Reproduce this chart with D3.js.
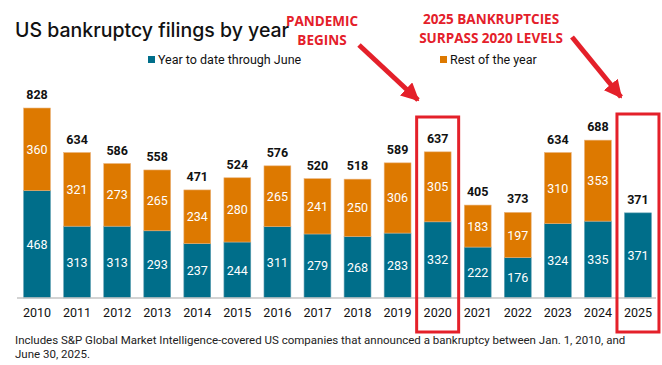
<!DOCTYPE html>
<html lang="en">
<head>
<meta charset="UTF-8" />
<script src="https://d3js.org/d3.v7.min.js"></script>
<style>
  body { margin: 0; background: #fff; }
  svg { display: block; font-family: Roboto, "Noto Sans", sans-serif; }
</style>
</head>
<body>
<svg width="662" height="365"></svg>
<script>
// data
const years = ["2010","2011","2012","2013","2014","2015","2016","2017","2018","2019","2020","2021","2022","2023","2024","2025"];
const ytdJune = [468, 313, 313, 293, 237, 244, 311, 279, 268, 283, 332, 222, 176, 324, 335, 371];
const restOfYear = [360, 321, 273, 265, 234, 280, 265, 241, 250, 306, 305, 183, 197, 310, 353, 0];
const seriesNames = ["Year to date through June", "Rest of the year"];
const highlighted = ["2020", "2025"];

const teal = "#006e8a", orange = "#dd7900", red = "#e4202a";

const svg = d3.select("svg");

const rows = years.map((y, i) => ({year: y, ytd: ytdJune[i], rest: restOfYear[i], total: ytdJune[i] + restOfYear[i]}));

const x = d3.scaleBand().domain(years).range([17, 658]).paddingInner(0.33).paddingOuter(0.165);
const y = d3.scaleLinear().domain([0, 900]).range([298, 91.5]);

// title
svg.append("text")
  .attr("x", 15).attr("y", 37)
  .attr("font-family", "Inter, Roboto, sans-serif")
  .attr("font-size", 19.5).attr("font-weight", 500).attr("fill", "#111")
  .text("US bankruptcy filings by year");

// legend
const legend = [{name: seriesNames[0], c: teal, x: 148}, {name: seriesNames[1], c: orange, x: 440}];
legend.forEach(d => {
  svg.append("rect").attr("x", d.x).attr("y", 56).attr("width", 7).attr("height", 7).attr("fill", d.c);
  svg.append("text").attr("x", d.x + 10).attr("y", 63.5)
    .attr("font-size", 12.5).attr("fill", "#111").text(d.name);
});

// stacked bars
const stack = d3.stack().keys(["ytd", "rest"]);
const layers = stack(rows);
const colors = [teal, orange];

layers.forEach((layer, li) => {
  const g = svg.append("g");
  g.selectAll("rect").data(layer.filter(d => d[1] > d[0])).enter().append("rect")
    .attr("x", d => x(d.data.year))
    .attr("y", d => y(d[1]))
    .attr("width", x.bandwidth())
    .attr("height", d => y(d[0]) - y(d[1]))
    .attr("fill", colors[li])
    .attr("stroke", li === 0 ? "#5f9fb2" : "#eab27a")
    .attr("stroke-width", 0.6);
  g.selectAll("text").data(layer.filter(d => d[1] > d[0])).enter().append("text")
    .attr("x", d => x(d.data.year) + x.bandwidth() / 2)
    .attr("y", d => (y(d[0]) + y(d[1])) / 2 + 4.5)
    .attr("text-anchor", "middle")
    .attr("font-size", 12.5).attr("fill", "#fff")
    .text(d => d[1] - d[0]);
});

// totals
svg.append("g").selectAll("text").data(rows).enter().append("text")
  .attr("x", d => x(d.year) + x.bandwidth() / 2)
  .attr("y", d => y(d.total) - 9)
  .attr("text-anchor", "middle")
  .attr("font-size", 12.5).attr("font-weight", 700).attr("fill", "#111")
  .text(d => d.total);

// x axis
const xAxis = svg.append("g").attr("transform", "translate(0,298)")
  .call(d3.axisBottom(x).tickSize(0).tickPadding(10));
xAxis.select(".domain").attr("stroke", "#c4c4c4").attr("stroke-width", 1.5).attr("d", "M17,0H656");
xAxis.selectAll("text").attr("font-family", "Roboto, sans-serif").attr("font-size", 12.5).attr("fill", "#111");

// highlight boxes (top edge in px, bottom shared)
const boxTops = [117, 114];
highlighted.forEach((yr, i) => {
  const cx = x(yr) + x.bandwidth() / 2;
  svg.append("rect")
    .attr("x", cx - 21).attr("y", boxTops[i])
    .attr("width", 42).attr("height", 332 - boxTops[i])
    .attr("fill", "none").attr("stroke", red).attr("stroke-width", 3);
});

// annotations
const defs = svg.append("defs");
defs.append("marker").attr("id", "head").attr("viewBox", "0 0 10 10")
  .attr("refX", 9).attr("refY", 5).attr("markerWidth", 3.6).attr("markerHeight", 3.6)
  .attr("markerUnits", "strokeWidth").attr("orient", "auto")
  .append("path").attr("d", "M0,0L10,5L0,10Z").attr("fill", red);

const notes = [
  {lines: ["PANDEMIC", "BEGINS"], cx: 322, y0: 26, from: [359, 45], to: [418, 100]},
  {lines: ["2025 BANKRUPTCIES", "SURPASS 2020 LEVELS"], cx: 491, y0: 24, from: [572, 37], to: [621, 97]}
];
notes.forEach(n => {
  n.lines.forEach((t, i) => {
    svg.append("text").attr("x", n.cx).attr("y", n.y0 + i * 19)
      .attr("text-anchor", "middle")
      .attr("font-family", "'Open Sans', sans-serif")
      .attr("font-size", 13.5).attr("font-weight", 700).attr("fill", red)
      .text(t);
  });
  svg.append("line")
    .attr("x1", n.from[0]).attr("y1", n.from[1])
    .attr("x2", n.to[0]).attr("y2", n.to[1])
    .attr("stroke", red).attr("stroke-width", 5)
    .attr("marker-end", "url(#head)");
});

// footnote
const foot = ["Includes S&P Global Market Intelligence-covered US companies that announced a bankruptcy between Jan. 1, 2010, and",
  "June 30, 2025."];
foot.forEach((t, i) => {
  svg.append("text").attr("x", 15).attr("y", 344 + i * 13.5)
    .attr("font-size", 11.5).attr("fill", "#222").text(t);
});
</script>
</body>
</html>
